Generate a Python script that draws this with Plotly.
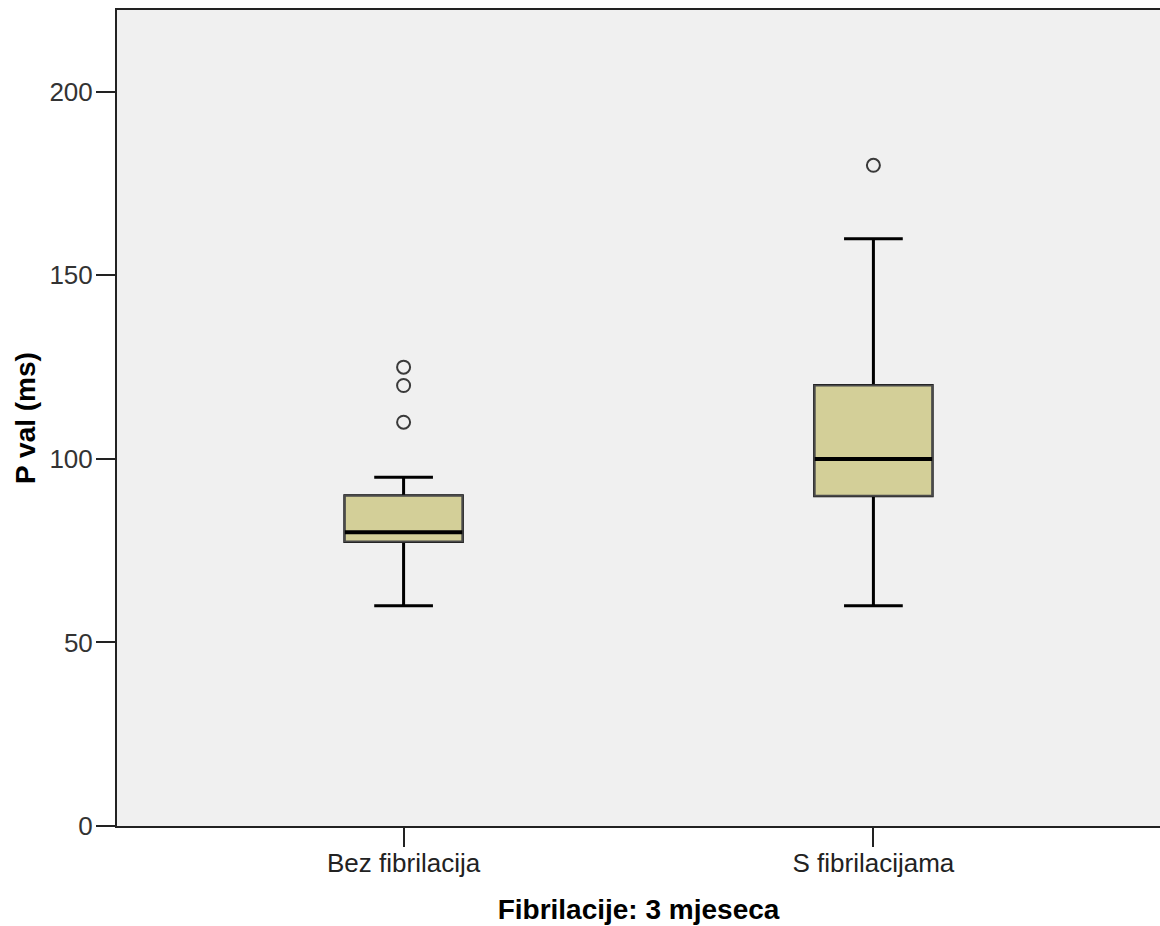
import plotly.graph_objects as go

# Fibrilacije: 3 mjeseca - P val (ms)
categories = ["Bez fibrilacija", "S fibrilacijama"]
q1 = [77.5, 90]
median = [80, 100]
q3 = [90, 120]
lowerfence = [60, 60]
upperfence = [95, 160]
outlier_cat = ["Bez fibrilacija", "Bez fibrilacija", "Bez fibrilacija", "S fibrilacijama"]
outlier_val = [110, 120, 125, 180]
y_ticks = [0, 50, 100, 150, 200]

fill = "#d3cf98"
fig = go.Figure()

# whiskers (thick black)
fig.add_trace(go.Box(
    x=categories, q1=q1, median=median, q3=q3,
    lowerfence=lowerfence, upperfence=upperfence,
    width=0.25, whiskerwidth=0.5, fillcolor=fill,
    line=dict(color="#000000", width=3), boxpoints=False,
    hoverinfo="skip", showlegend=False,
))
# box body with thinner grey border
fig.add_trace(go.Box(
    x=categories, q1=q1, median=median, q3=q3,
    lowerfence=q1, upperfence=q3,
    width=0.25, whiskerwidth=0, fillcolor=fill,
    line=dict(color="#4a4a4a", width=2), boxpoints=False,
    hoverinfo="skip", showlegend=False,
))
# thick median line
fig.add_trace(go.Box(
    x=categories, q1=median, median=median, q3=median,
    lowerfence=median, upperfence=median,
    width=0.25, whiskerwidth=0, fillcolor="rgba(0,0,0,0)",
    line=dict(color="#000000", width=4), boxpoints=False,
    hoverinfo="skip", showlegend=False,
))
# outliers
fig.add_trace(go.Scatter(
    x=outlier_cat, y=outlier_val, mode="markers",
    marker=dict(symbol="circle-open", size=13, color="#3a3a3a", line=dict(width=2)),
    showlegend=False,
))

fig.update_layout(
    width=1160, height=926,
    margin=dict(l=117, r=0, t=10, b=100),
    paper_bgcolor="white", plot_bgcolor="#f0f0f0",
    font=dict(family="Liberation Sans, Arial, sans-serif", color="#333333", size=26),
    boxmode="overlay",
)
fig.update_xaxes(
    type="category", categoryorder="array", categoryarray=categories,
    range=[-0.61, 1.61],
    showline=True, linecolor="#222222", linewidth=2, mirror=True,
    ticks="outside", ticklen=19, tickwidth=1.5, tickcolor="#222222",
    ticklabelstandoff=-6,
    showgrid=False, zeroline=False,
    tickfont=dict(size=26, color="#222222"),
    title=dict(text="<b>Fibrilacije: 3 mjeseca</b>", font=dict(size=28, color="#000000"), standoff=22),
)
fig.update_yaxes(
    range=[0, 222.3], tickvals=y_ticks,
    showline=True, linecolor="#222222", linewidth=2,
    ticks="outside", ticklen=19, tickwidth=1.5, tickcolor="#222222",
    ticklabelstandoff=-2,
    showgrid=False, zeroline=False,
    tickfont=dict(size=26, color="#333333"),
    title=dict(text="<b>P val (ms)</b>", font=dict(size=28, color="#000000"), standoff=6),
)

# drop the browser's default body margin so the figure fills the window
fig.write_html("out.html", config={"displayModeBar": False},
               post_script="document.body.style.margin='0';")
